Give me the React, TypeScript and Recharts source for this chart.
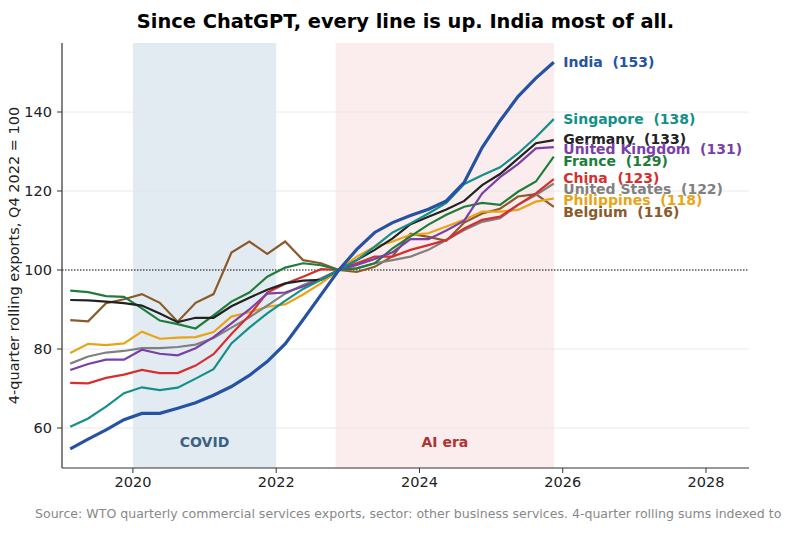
import React from "react";
import {
  LineChart,
  Line,
  XAxis,
  YAxis,
  ReferenceArea,
  ReferenceLine,
  ReferenceDot,
} from "recharts";

const quarters = [
  "2019Q1", "2019Q2", "2019Q3", "2019Q4",
  "2020Q1", "2020Q2", "2020Q3", "2020Q4",
  "2021Q1", "2021Q2", "2021Q3", "2021Q4",
  "2022Q1", "2022Q2", "2022Q3", "2022Q4",
  "2023Q1", "2023Q2", "2023Q3", "2023Q4",
  "2024Q1", "2024Q2", "2024Q3", "2024Q4",
  "2025Q1", "2025Q2", "2025Q3", "2025Q4",
];

const india = [54.7, 57.2, 59.5, 62.1, 63.7, 63.7, 65.0, 66.4, 68.3, 70.5, 73.3, 76.8, 81.3, 87.4, 93.7, 100, 105.2, 109.5, 112.0, 113.8, 115.4, 117.5, 122.2, 131.0, 137.8, 143.9, 148.6, 152.6];
const singapore = [60.3, 62.4, 65.4, 68.8, 70.3, 69.6, 70.2, 72.5, 74.9, 81.4, 85.4, 89.0, 92.2, 95.2, 97.5, 100, 102.5, 105.9, 109.5, 111.8, 114.3, 117.0, 121.8, 124.0, 126.0, 129.5, 133.6, 138.2];
const germany = [92.4, 92.3, 92.0, 91.6, 91.0, 89.0, 86.8, 87.9, 87.9, 90.8, 93.0, 95.0, 96.6, 97.3, 97.5, 100, 102.5, 105.1, 108.0, 111.6, 113.5, 115.3, 117.5, 121.5, 124.3, 128.2, 132.1, 132.9];
const uk = [74.7, 76.2, 77.3, 77.3, 79.8, 78.8, 78.4, 80.2, 83.0, 86.5, 90.0, 94.0, 94.3, 95.8, 97.5, 100, 101.3, 102.8, 104.5, 107.8, 107.8, 110.0, 112.5, 119.4, 123.5, 126.8, 130.8, 131.1];
const france = [94.8, 94.4, 93.4, 93.2, 90.3, 87.2, 86.3, 85.2, 88.5, 92.0, 94.3, 98.3, 100.6, 101.7, 101.2, 100, 100.4, 101.7, 105.5, 108.5, 111.5, 114.0, 116.0, 117.0, 116.5, 119.8, 122.4, 128.7];
const china = [71.4, 71.3, 72.7, 73.5, 74.7, 73.9, 73.9, 75.8, 78.7, 83.8, 88.5, 94.3, 96.5, 98.3, 100.2, 100, 101.7, 103.4, 103.4, 105.1, 106.3, 107.6, 110.5, 112.7, 113.5, 116.5, 119.4, 123.0];
const us = [76.3, 78.1, 79.1, 79.5, 80.2, 80.2, 80.5, 81.1, 82.8, 85.4, 88.0, 91.0, 94.0, 96.2, 97.9, 100, 100.4, 101.7, 102.5, 103.4, 105.1, 107.6, 110.1, 112.2, 113.1, 116.5, 119.0, 121.9];
const philippines = [79.0, 81.3, 81.0, 81.4, 84.4, 82.6, 82.9, 83.0, 84.3, 88.2, 89.3, 90.7, 91.3, 93.8, 96.6, 100, 103.4, 105.9, 107.2, 108.9, 109.3, 111.0, 112.7, 114.8, 114.8, 115.2, 117.3, 118.1];
const belgium = [87.3, 87.0, 91.6, 92.6, 93.9, 91.7, 86.9, 91.7, 93.9, 104.4, 107.2, 104.1, 107.2, 102.5, 101.7, 100, 99.5, 100.8, 103.5, 109.2, 108.4, 107.4, 112.0, 114.3, 115.5, 118.6, 119.2, 116.0];

const xTicks = [2020, 2022, 2024, 2026, 2028];
const yTicks = [60, 80, 100, 120, 140];

// label placement (data units, after de-overlap)
const labelY = [152.7, 138.2, 133.1, 130.6, 127.7, 123.2, 120.4, 117.7, 114.8];

const series = [
  { key: "belgium", name: "Belgium", values: belgium, color: "#8b5a2b", width: 2.2 },
  { key: "philippines", name: "Philippines", values: philippines, color: "#e8a317", width: 2.2 },
  { key: "us", name: "United States", values: us, color: "#808080", width: 2.2 },
  { key: "china", name: "China", values: china, color: "#d62f2f", width: 2.2 },
  { key: "france", name: "France", values: france, color: "#1f7d3b", width: 2.2 },
  { key: "uk", name: "United Kingdom", values: uk, color: "#7b3fa8", width: 2.2 },
  { key: "germany", name: "Germany", values: germany, color: "#222222", width: 2.2 },
  { key: "singapore", name: "Singapore", values: singapore, color: "#139088", width: 2.2 },
  { key: "india", name: "India", values: india, color: "#2553a2", width: 3.2 },
];

const labelOrder = ["india", "singapore", "germany", "uk", "france", "china", "us", "philippines", "belgium"];

const quarterToYear = (q: string) => {
  const y = parseInt(q.slice(0, 4), 10);
  const n = parseInt(q.slice(5), 10);
  return y + (n - 1) * 0.25 + 0.125;
};

const rows = quarters.map((q, i) => {
  const r: Record<string, number> = { t: quarterToYear(q) };
  series.forEach((s) => {
    r[s.key] = s.values[i];
  });
  return r;
});

const lastT = quarterToYear(quarters[quarters.length - 1]);
const FONT = "'DejaVu Sans', sans-serif";

export default function App() {
  return (
    <div
      style={{
        position: "absolute",
        left: 0,
        top: 0,
        width: 802,
        height: 537,
        overflow: "hidden",
        background: "#fff",
        fontFamily: FONT,
      }}
    >
      <div
        style={{
          position: "absolute",
          left: 0,
          width: 811,
          top: 10,
          textAlign: "center",
          fontWeight: "bold",
          fontSize: 19.4,
          color: "#000",
          whiteSpace: "nowrap",
        }}
      >
        Since ChatGPT, every line is up. India most of all.
      </div>
      <div
        style={{
          position: "absolute",
          left: 35,
          top: 506,
          fontSize: 12.55,
          color: "#888888",
          whiteSpace: "nowrap",
        }}
      >
        Source: WTO quarterly commercial services exports, sector: other business services. 4-quarter rolling sums indexed to
      </div>
      <div style={{ position: "absolute", left: 0, top: 0 }}>
        <LineChart
          width={802}
          height={537}
          data={rows}
          margin={{ top: 43, right: 53, bottom: 39, left: 0 }}
        >
          <XAxis
            dataKey="t"
            type="number"
            domain={[2019.01, 2028.6]}
            ticks={xTicks}
            allowDataOverflow
            height={30}
            tickSize={5}
            tickMargin={4}
            axisLine={{ stroke: "#333", strokeWidth: 1.2 }}
            tickLine={{ stroke: "#333" }}
            tick={{ fill: "#222", fontSize: 14.5, fontFamily: FONT }}
          />
          <YAxis
            type="number"
            domain={[49.87, 157.47]}
            ticks={yTicks}
            allowDataOverflow
            width={62}
            tickSize={5}
            tickMargin={5}
            axisLine={{ stroke: "#333", strokeWidth: 1.2 }}
            tickLine={{ stroke: "#333" }}
            tick={{ fill: "#222", fontSize: 14.5, fontFamily: FONT }}
            label={{
              value: "4-quarter rolling exports, Q4 2022 = 100",
              angle: -90,
              position: "insideLeft",
              offset: 0,
              dx: 14,
              style: { textAnchor: "middle", fontSize: 14.5, fill: "#222", fontFamily: FONT },
            }}
          />
          <ReferenceArea
            x1={2020}
            x2={2022}
            fill="#e3ebf2"
            fillOpacity={1}
            stroke="none"
            label={{
              value: "COVID",
              position: "insideBottom",
              offset: 21,
              style: { fontWeight: "bold", fontSize: 14, fill: "#3b6283", fontFamily: FONT },
            }}
          />
          <ReferenceArea
            x1={2022.83}
            x2={2025.88}
            fill="#fbeded"
            fillOpacity={1}
            stroke="none"
            label={{
              value: "AI era",
              position: "insideBottom",
              offset: 21,
              style: { fontWeight: "bold", fontSize: 14, fill: "#b03232", fontFamily: FONT },
            }}
          />
          {yTicks
            .filter((v) => v !== 100)
            .map((v) => (
              <ReferenceLine key={v} y={v} stroke="#e4e4e4" strokeWidth={0.8} />
            ))}
          <ReferenceLine y={100} stroke="#000" strokeWidth={1} strokeDasharray="1.5 1.5" />
          {series.map((s) => (
            <Line
              key={s.key}
              dataKey={s.key}
              type="linear"
              stroke={s.color}
              strokeWidth={s.width}
              dot={false}
              activeDot={false}
              isAnimationActive={false}
            />
          ))}
          {labelOrder.map((k, i) => {
            const s = series.find((x) => x.key === k)!;
            const v = Math.round(s.values[s.values.length - 1]);
            return (
              <ReferenceDot
                key={"lab" + k}
                x={lastT}
                y={labelY[i]}
                r={0}
                ifOverflow="visible"
                shape={(p: any) => (
                  <text
                    x={p.cx + 9.5}
                    y={p.cy}
                    dominantBaseline="central"
                    fill={s.color}
                    fontWeight="bold"
                    fontSize={14}
                    fontFamily={FONT}
                    style={{ whiteSpace: "pre" }}
                  >
                    {`${s.name}  (${v})`}
                  </text>
                )}
              />
            );
          })}
        </LineChart>
      </div>
    </div>
  );
}
